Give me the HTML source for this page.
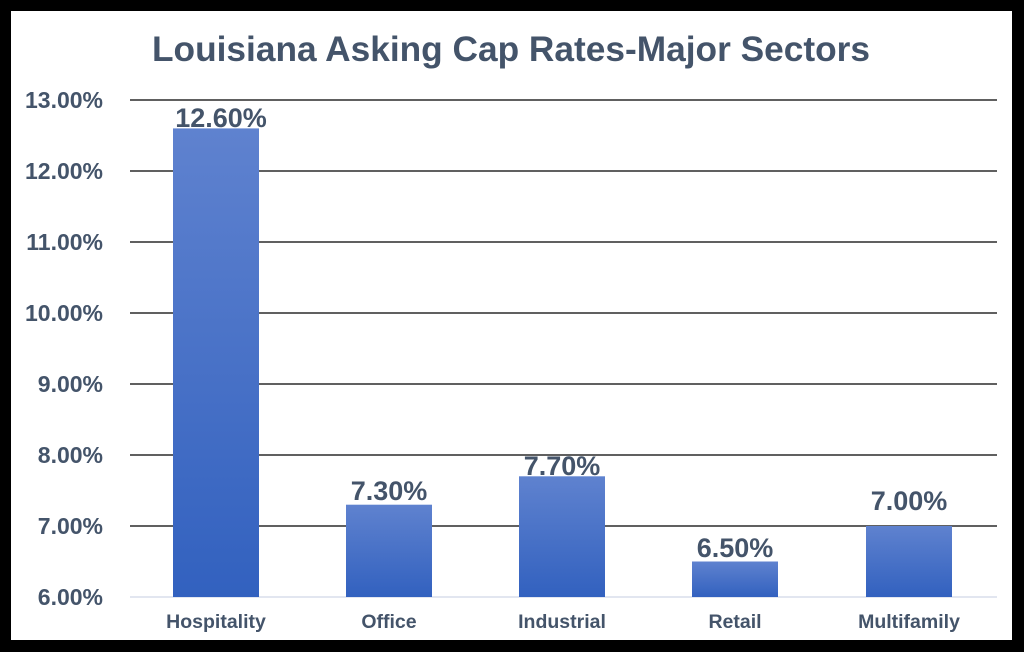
<!DOCTYPE html>
<html><head><style>
body{margin:0;background:#000;}
svg{display:block}
</style></head><body>
<svg width="1024" height="652" xmlns="http://www.w3.org/2000/svg" font-family="Liberation Sans, Arial, sans-serif" font-weight="bold">
<defs><linearGradient id="g" x1="0" y1="0" x2="0" y2="1"><stop offset="0" stop-color="#5f82cf"/><stop offset="1" stop-color="#3261bf"/></linearGradient></defs>
<rect x="0" y="0" width="1024" height="652" fill="#000"/>
<rect x="11" y="11" width="1001" height="629" fill="#fff"/>
<text x="511" y="61" text-anchor="middle" font-size="35" fill="#44546a" textLength="718" lengthAdjust="spacingAndGlyphs">Louisiana Asking Cap Rates-Major Sectors</text>
<g stroke="#000" stroke-width="1.3">
<line x1="130" y1="100" x2="997" y2="100"/><line x1="130" y1="171" x2="997" y2="171"/><line x1="130" y1="242" x2="997" y2="242"/><line x1="130" y1="313" x2="997" y2="313"/><line x1="130" y1="384" x2="997" y2="384"/><line x1="130" y1="455" x2="997" y2="455"/><line x1="130" y1="526" x2="997" y2="526"/>
</g>
<line x1="130" y1="597" x2="997" y2="597" stroke="#d0d8e8" stroke-width="1.3"/>
<g font-size="23" fill="#44546a" text-anchor="end">
<text x="103" y="108">13.00%</text><text x="103" y="179">12.00%</text><text x="103" y="250">11.00%</text><text x="103" y="321">10.00%</text><text x="103" y="392">9.00%</text><text x="103" y="463">8.00%</text><text x="103" y="534">7.00%</text><text x="103" y="605">6.00%</text>
</g>
<g fill="url(#g)">
<rect x="173" y="128.4" width="86" height="468.6"/>
<rect x="346" y="504.7" width="86" height="92.3"/>
<rect x="519" y="476.3" width="86" height="120.7"/>
<rect x="692" y="561.5" width="86" height="35.5"/>
<rect x="866" y="526" width="86" height="71"/>
</g>
<g font-size="27" fill="#44546a" text-anchor="middle">
<text x="221" y="127">12.60%</text><text x="389" y="500">7.30%</text><text x="562" y="475">7.70%</text><text x="735" y="557">6.50%</text><text x="909" y="510">7.00%</text>
</g>
<g font-size="19.5" fill="#44546a" text-anchor="middle">
<text x="216" y="628">Hospitality</text><text x="389" y="628">Office</text><text x="562" y="628">Industrial</text><text x="735" y="628">Retail</text><text x="909" y="628">Multifamily</text>
</g>
</svg>
</body></html>
